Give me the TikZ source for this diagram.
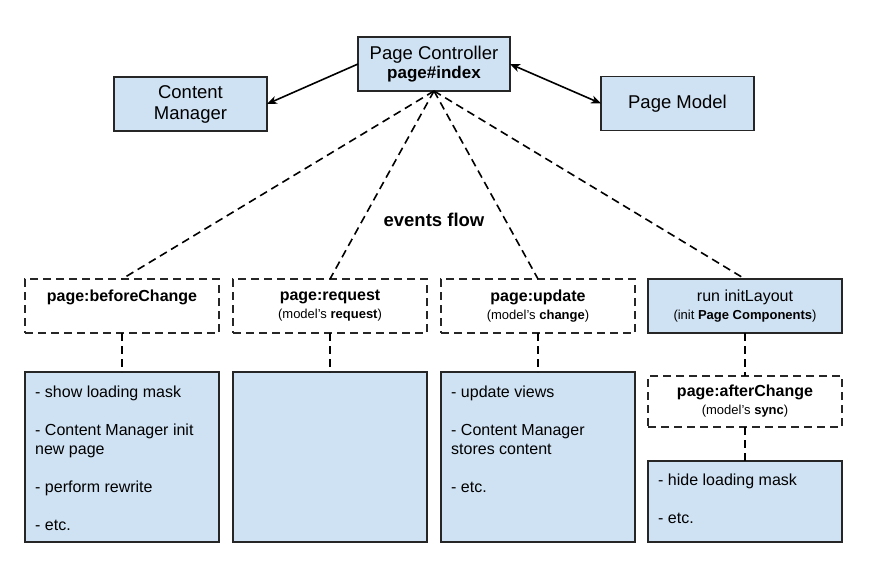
\documentclass[tikz,border=0pt]{standalone}
\usepackage{fontspec}
\setmainfont{Liberation Sans}
\usepackage{tikz}
\usetikzlibrary{arrows.meta, positioning}
\definecolor{boxblue}{HTML}{CFE2F3}

\begin{document}
\begin{tikzpicture}[x=1pt, y=-1pt, node distance=14pt,
    box/.style={draw=black!85, fill=boxblue, line width=1.6pt, inner sep=0pt, outer sep=0pt,
                align=center, minimum width=152pt, minimum height=54pt,
                font=\fontsize{18.5}{21}\selectfont},
    eventbox/.style={box, fill=white, dash pattern=on 8pt off 5pt, minimum width=194pt,
                font=\fontsize{16}{18}\selectfont},
    listbox/.style={box, minimum width=194pt, minimum height=170pt},
    listtext/.style={inner sep=0pt, align=left, anchor=north west,
                font=\fontsize{16}{19}\selectfont},
    flow/.style={line width=1.6pt, dash pattern=on 8pt off 5pt},
    link/.style={line width=1.6pt, {Stealth[length=10pt,width=8pt,inset=3pt]}-}]
    \useasboundingbox (0,0) rectangle (869,580);

    \node[box] (ctrl) at (434,64) {Page Controller\\[-2pt] {\fontsize{17}{19}\selectfont\bfseries page\#index}};
    \node[box, minimum width=153pt] (cmgr) at (190.5,104) {Content\\ Manager};
    \node[box, minimum width=153pt] (model) at (677.5,103.5) {Page Model};

    \node[font=\fontsize{18.5}{21}\selectfont\bfseries] (flowlabel) at (434,220) {events flow};

    % events row
    \node[eventbox] (before) at (122,306) {\textbf{page:beforeChange}\\ {\fontsize{13}{15}\selectfont\phantom{(x)}}};
    \node[eventbox, right=of before] (request) {\textbf{page:request}\\ {\fontsize{13}{15}\selectfont (model’s \textbf{request})}};
    \node[eventbox, right=of request] (update) {\textbf{page:update}\\ {\fontsize{13}{15}\selectfont (model’s \textbf{change})}};
    \node[eventbox, draw=black!85, fill=boxblue, solid, right=13pt of update] (layout) {run initLayout\\ {\fontsize{13}{15}\selectfont (init \textbf{Page Components})}};

    % lists
    \node[listbox, below=39pt of before] (beforelist) {};
    \node[listbox, below=39pt of request] (requestlist) {};
    \node[listbox, below=39pt of update] (updatelist) {};
    \node[eventbox, minimum height=51pt, below=43pt of layout] (after) {\textbf{page:afterChange}\\ {\fontsize{13}{15}\selectfont (model’s \textbf{sync})}};
    \node[listbox, minimum height=81pt, below=34pt of after] (hidelist) {};

    \node[listtext] (beforetext) at ([shift={(10,14)}]beforelist.north west)
        {- show loading mask\\[19pt] - Content Manager init\\ new page\\[19pt] - perform rewrite\\[19pt] - etc.};
    \node[listtext] (updatetext) at ([shift={(10,14)}]updatelist.north west)
        {- update views\\[19pt] - Content Manager\\ stores content\\[19pt] - etc.};
    \node[listtext] (hidetext) at ([shift={(10,13)}]hidelist.north west)
        {- hide loading mask\\[19pt] - etc.};

    \draw[link] (cmgr.east) -- (ctrl.west);
    \draw[link, {Stealth[length=10pt,width=8pt,inset=3pt]}-{Stealth[length=10pt,width=8pt,inset=3pt]}] (ctrl.east) -- (model.west);

    \draw[flow] (ctrl.south) -- (before.north);
    \draw[flow] (ctrl.south) -- (request.north);
    \draw[flow] (ctrl.south) -- (update.north);
    \draw[flow] (ctrl.south) -- (layout.north);

    \draw[flow] (before.south) -- (beforelist.north);
    \draw[flow] (request.south) -- (requestlist.north);
    \draw[flow] (update.south) -- (updatelist.north);
    \draw[flow] (layout.south) -- (after.north);
    \draw[flow] (after.south) -- (hidelist.north);
\end{tikzpicture}
\end{document}
